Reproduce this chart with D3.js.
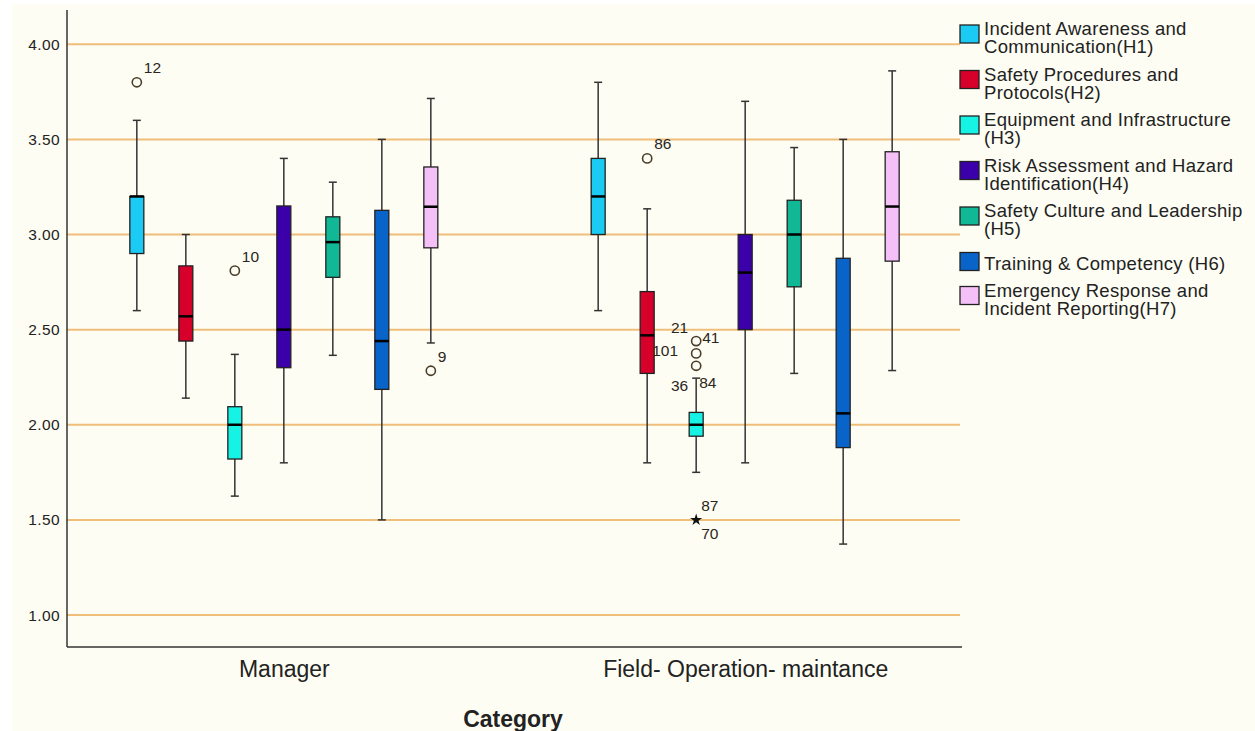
<!DOCTYPE html>
<html>
<head>
<meta charset="utf-8">
<script src="https://cdn.jsdelivr.net/npm/d3@7"></script>
<style>
  body { margin: 0; background: #ffffff; }
  svg { display: block; font-family: "Liberation Sans", Arial, sans-serif; }
</style>
</head>
<body>
<svg></svg>
<script>
// categories on the x axis
const groups = ["Manager", "Field- Operation- maintance"];

// the seven dimensions (legend order)
const series = ["H1", "H2", "H3", "H4", "H5", "H6", "H7"];
const seriesLabels = [
    ["Incident Awareness and", "Communication(H1)"],
    ["Safety Procedures and", "Protocols(H2)"],
    ["Equipment and Infrastructure", "(H3)"],
    ["Risk Assessment and Hazard", "Identification(H4)"],
    ["Safety Culture and Leadership", "(H5)"],
    ["Training & Competency (H6)"],
    ["Emergency Response and", "Incident Reporting(H7)"]
];
const seriesColors = ["#1ccbf4", "#d7002b", "#16f2e4", "#3b00a9", "#10b896", "#0864c8", "#f4c0f7"];

// box stats per series: [lower whisker, Q1, median, Q3, upper whisker]
const managerStats = [
    [2.60, 2.90, 3.20, 3.20, 3.60],
    [2.14, 2.44, 2.57, 2.835, 3.00],
    [1.625, 1.82, 2.00, 2.095, 2.37],
    [1.80, 2.30, 2.50, 3.15, 3.40],
    [2.365, 2.775, 2.96, 3.093, 3.275],
    [1.50, 2.186, 2.44, 3.127, 3.50],
    [2.43, 2.93, 3.146, 3.355, 3.715]
];
const fieldStats = [
    [2.60, 3.00, 3.20, 3.40, 3.80],
    [1.80, 2.27, 2.47, 2.70, 3.135],
    [1.75, 1.94, 2.00, 2.065, 2.245],
    [1.80, 2.50, 2.80, 3.00, 3.70],
    [2.27, 2.725, 3.00, 3.18, 3.457],
    [1.373, 1.88, 2.06, 2.875, 3.50],
    [2.285, 2.86, 3.147, 3.435, 3.86]
];

// outliers: [group index, series index, value, marker]
const outliers = [
    [0, 0, 3.80, "o"],
    [0, 2, 2.81, "o"],
    [0, 6, 2.284, "o"],
    [1, 1, 3.40, "o"],
    [1, 2, 2.44, "o"],
    [1, 2, 2.375, "o"],
    [1, 2, 2.31, "o"],
    [1, 2, 1.50, "*"]
];
// case numbers: [group index, series index, value, case id]
const caseLabels = [
    [0, 0, 3.80, "12"],
    [0, 2, 2.81, "10"],
    [0, 6, 2.284, "9"],
    [1, 1, 3.40, "86"],
    [1, 1, 2.387, "101"],
    [1, 2, 2.44, "21"],
    [1, 2, 2.44, "41"],
    [1, 2, 2.31, "84"],
    [1, 2, 2.31, "36"],
    [1, 2, 1.50, "87"],
    [1, 2, 1.50, "70"]
];

const yTicks = [1.00, 1.50, 2.00, 2.50, 3.00, 3.50, 4.00];

let width = 1255, height = 731;
let margin = { top: 10, bottom: 84, left: 67, right: 295 };

let svg = d3.select('svg')
    .attr('width', width)
    .attr('height', height);

svg.append('rect')
    .attr('x', 12).attr('y', 4)
    .attr('width', width - 12).attr('height', height - 4)
    .attr('fill', '#fefdf3');

let yScale = d3.scaleLinear()
    .domain([0.832, 4.18])
    .range([height - margin.bottom, margin.top]);

let xGroup = d3.scalePoint()
    .domain(groups)
    .range([margin.left, width - margin.right + 2])
    .padding(0.47);

let xSeries = d3.scalePoint()
    .domain(series)
    .range([-147, 147]);

// gridlines
svg.append('g')
    .selectAll('line')
    .data(yTicks)
    .enter()
    .append('line')
    .attr('x1', margin.left)
    .attr('x2', 960)
    .attr('y1', d => yScale(d))
    .attr('y2', d => yScale(d))
    .attr('stroke', '#efbe7b')
    .attr('stroke-width', 2);

// y axis
let yAxis = svg.append('g')
    .attr('transform', `translate(${margin.left}, 0)`)
    .call(d3.axisLeft(yScale).tickValues(yTicks).tickFormat(d3.format('.2f')).tickSize(0).tickPadding(7));
yAxis.select('.domain').remove();
yAxis.selectAll('text')
    .style('font-size', '15.5px')
    .style('letter-spacing', '0.4px')
    .attr('fill', '#222');

// x axis
let xAxis = svg.append('g')
    .attr('transform', `translate(0, ${height - margin.bottom})`)
    .call(d3.axisBottom(xGroup).tickSize(0).tickPadding(14));
xAxis.select('.domain').remove();
xAxis.selectAll('text')
    .style('font-size', '23px')
    .attr('fill', '#222');

// axis lines
svg.append('line')
    .attr('x1', margin.left).attr('x2', margin.left)
    .attr('y1', margin.top).attr('y2', height - margin.bottom)
    .attr('stroke', '#333').attr('stroke-width', 1.5);
svg.append('line')
    .attr('x1', margin.left).attr('x2', 962)
    .attr('y1', height - margin.bottom).attr('y2', height - margin.bottom)
    .attr('stroke', '#333').attr('stroke-width', 1.5);

svg.append('text')
    .attr('x', 513)
    .attr('y', 727)
    .attr('text-anchor', 'middle')
    .style('font-size', '23px')
    .style('font-weight', 'bold')
    .attr('fill', '#222')
    .text('Category');

// boxes
let boxData = [];
[managerStats, fieldStats].forEach(function(stats, gi) {
    stats.forEach(function(s, si) {
        boxData.push({ g: groups[gi], s: series[si], color: seriesColors[si], low: s[0], q1: s[1], med: s[2], q3: s[3], high: s[4] });
    });
});

let boxW = 14, capW = 8;
let box = svg.append('g')
    .selectAll('g')
    .data(boxData)
    .enter()
    .append('g')
    .attr('transform', d => `translate(${xGroup(d.g) + xSeries(d.s)}, 0)`);

box.append('line')
    .attr('y1', d => yScale(d.low)).attr('y2', d => yScale(d.high))
    .attr('stroke', '#333').attr('stroke-width', 1.5);
box.append('line')
    .attr('x1', -capW / 2).attr('x2', capW / 2)
    .attr('y1', d => yScale(d.low)).attr('y2', d => yScale(d.low))
    .attr('stroke', '#333').attr('stroke-width', 1.5);
box.append('line')
    .attr('x1', -capW / 2).attr('x2', capW / 2)
    .attr('y1', d => yScale(d.high)).attr('y2', d => yScale(d.high))
    .attr('stroke', '#333').attr('stroke-width', 1.5);
box.append('rect')
    .attr('x', -boxW / 2)
    .attr('width', boxW)
    .attr('y', d => yScale(d.q3))
    .attr('height', d => yScale(d.q1) - yScale(d.q3))
    .attr('fill', d => d.color)
    .attr('stroke', '#222')
    .attr('stroke-width', 1.3);
box.append('line')
    .attr('x1', -boxW / 2).attr('x2', boxW / 2)
    .attr('y1', d => yScale(d.med)).attr('y2', d => yScale(d.med))
    .attr('stroke', '#000').attr('stroke-width', 2.5);

// outliers
let ox = d => xGroup(groups[d[0]]) + xSeries(series[d[1]]);
svg.append('g')
    .selectAll('circle')
    .data(outliers.filter(d => d[3] === 'o'))
    .enter()
    .append('circle')
    .attr('cx', ox)
    .attr('cy', d => yScale(d[2]))
    .attr('r', 4.6)
    .attr('fill', 'none')
    .attr('stroke', '#4a3e2a')
    .attr('stroke-width', 1.6);
svg.append('g')
    .selectAll('path')
    .data(outliers.filter(d => d[3] === '*'))
    .enter()
    .append('path')
    .attr('d', d3.symbol(d3.symbolStar, 45))
    .attr('transform', d => `translate(${ox(d)}, ${yScale(d[2])})`)
    .attr('fill', '#111');

// case number placement (dx, dy, anchor)
let labelPlace = {
    "21": [-8, -8, 'end'], "41": [6, 2, 'start'],
    "84": [3, 22, 'start'], "36": [-8, 25, 'end'],
    "87": [5, -9, 'start'], "70": [5, 19, 'start'],
    "101": [5, 5, 'start']
};
svg.append('g')
    .selectAll('text')
    .data(caseLabels)
    .enter()
    .append('text')
    .attr('x', d => ox(d) + (labelPlace[d[3]] ? labelPlace[d[3]][0] : 7))
    .attr('y', d => yScale(d[2]) + (labelPlace[d[3]] ? labelPlace[d[3]][1] : -9))
    .attr('text-anchor', d => labelPlace[d[3]] ? labelPlace[d[3]][2] : 'start')
    .style('font-size', '15.5px')
    .attr('fill', '#2a2620')
    .text(d => d[3]);

// legend
let itemTop = 25;
let legend = svg.append('g');
seriesLabels.forEach(function(lines, i) {
    let item = legend.append('g').attr('transform', `translate(960, ${itemTop})`);
    item.append('rect')
        .attr('width', 19).attr('height', 18)
        .attr('fill', seriesColors[i])
        .attr('stroke', '#222').attr('stroke-width', 1.3);
    item.selectAll('text')
        .data(lines)
        .enter()
        .append('text')
        .attr('x', 24)
        .attr('y', (d, j) => (lines.length === 1 ? 17 : 10) + j * 18)
        .style('font-size', '18.5px')
        .style('letter-spacing', '0.3px')
        .attr('fill', '#222')
        .text(d => d);
    itemTop += lines.length === 1 ? 34 : 45.5;
});
</script>
</body>
</html>
